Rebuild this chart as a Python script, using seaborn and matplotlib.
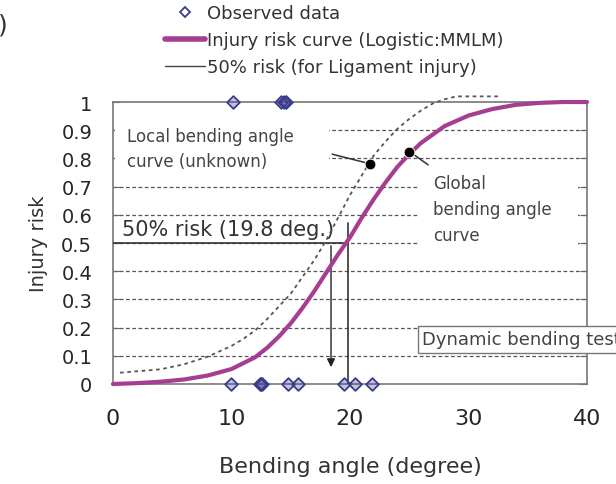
import pandas as pd
import matplotlib.pyplot as plt
import seaborn as sns
from matplotlib.lines import Line2D
from matplotlib.patches import Rectangle

# data
obs_angle = [10.0, 12.4, 12.5, 12.6, 14.8, 15.6, 19.5, 20.4, 21.9, 10.1, 14.2, 14.4, 14.6]
obs_injury = [0, 0, 0, 0, 0, 0, 0, 0, 0, 1, 1, 1, 1]

risk_angle = [0, 2, 4, 6, 8, 10, 12, 13, 14, 15, 16, 17, 18, 19, 20, 21, 22, 23, 24,
              25, 26, 28, 30, 32, 34, 36, 38, 40]
risk_value = [0.0, 0.003, 0.008, 0.016, 0.03, 0.053, 0.095, 0.128, 0.168, 0.215, 0.27,
              0.33, 0.395, 0.46, 0.52, 0.59, 0.655, 0.715, 0.77, 0.815, 0.855, 0.915,
              0.952, 0.975, 0.99, 0.997, 1.0, 1.0]

local_angle = [0.6, 2, 4, 6, 8, 10, 11, 12, 13, 14, 15, 16, 17, 18, 19, 20, 21, 22, 23,
               24, 25, 26, 27, 28, 29, 32.5]
local_value = [0.04, 0.045, 0.052, 0.07, 0.097, 0.135, 0.16, 0.19, 0.23, 0.275, 0.32, 0.38,
               0.44, 0.51, 0.59, 0.67, 0.74, 0.81, 0.86, 0.905, 0.94, 0.97, 0.995, 1.01,
               1.02, 1.02]

risk50_angle = 19.8
local50_angle = 18.4
dot_angle = [21.7, 25.0]
dot_value = [0.78, 0.823]

x_ticks = [0, 10, 20, 30, 40]
y_ticks = [0, 0.1, 0.2, 0.3, 0.4, 0.5, 0.6, 0.7, 0.8, 0.9, 1.0]
y_labels = ["0", "0.1", "0.2", "0.3", "0.4", "0.5", "0.6", "0.7", "0.8", "0.9", "1"]

obs_df = pd.DataFrame({"angle": obs_angle, "injury": obs_injury})
risk_df = pd.DataFrame({"angle": risk_angle, "risk": risk_value})
local_df = pd.DataFrame({"angle": local_angle, "risk": local_value})

sns.set_style("white")
plt.rcParams["font.family"] = ["DejaVu Sans"]

magenta = "#a63d91"
navy = "#3b3b8c"
grey = "#555555"

fig = plt.figure(figsize=(6.16, 4.85), dpi=100)
ax = fig.add_axes([0.1834, 0.2062, 0.7695, 0.5814])

# dashed horizontal grid
for yv in y_ticks[1:-1]:
    ax.axhline(yv, color=grey, lw=0.9, ls=(0, (3, 2)), zorder=0.5)

sns.lineplot(data=local_df, x="angle", y="risk", ax=ax, color=grey, lw=1.3,
             linestyle=(0, (2, 2)), zorder=4, clip_on=False)
sns.lineplot(data=risk_df, x="angle", y="risk", ax=ax, color=magenta, lw=3, zorder=5,
             clip_on=False)
sns.scatterplot(data=obs_df, x="angle", y="injury", ax=ax, marker="D", s=42,
                facecolor=(0.23, 0.23, 0.55, 0.3), edgecolor=navy, linewidth=1.3,
                zorder=6, clip_on=False)
sns.scatterplot(x=dot_angle, y=dot_value, ax=ax, color="black", s=60, zorder=6)

# 50% risk lines
ax.plot([0, risk50_angle], [0.5, 0.5], color="#333333", lw=1.2, zorder=3)
ax.plot([risk50_angle, risk50_angle], [0, 0.57], color="#333333", lw=1.2, zorder=3)
ax.annotate("", xy=(local50_angle, 0.05), xytext=(local50_angle, 0.5),
            arrowprops=dict(arrowstyle="-|>", color="#222222", lw=1, mutation_scale=12),
            zorder=3)
ax.text(0.8, 0.55, "50% risk (19.8 deg.)", fontsize=15, color="#333333", va="center")

# white boxes behind the two curve notes (they hide the grid)
ax.add_patch(Rectangle((0.15, 0.73), 18.1, 0.2, facecolor="white", edgecolor="none",
                       zorder=1))
ax.add_patch(Rectangle((25.8, 0.45), 13.4, 0.29, facecolor="white", edgecolor="none",
                       zorder=1))

ax.text(1.2, 0.835, "Local bending angle\ncurve (unknown)", fontsize=12, color="#444444",
        va="center", linespacing=1.45, zorder=3)
ax.plot([18.5, 21.5], [0.815, 0.783], color="#333333", lw=1.1, zorder=4)
ax.text(27.0, 0.62, "Global\nbending angle\ncurve", fontsize=12, color="#444444",
        va="center", linespacing=1.55, zorder=3)
ax.plot([25.3, 26.6], [0.816, 0.777], color="#333333", lw=1.1, zorder=4)
ax.text(26.1, 0.158, "Dynamic bending test", fontsize=13, color="#444444", va="center",
        bbox=dict(facecolor="white", edgecolor="#777777", pad=3, lw=1), zorder=7,
        clip_on=False)

ax.set_xlim(0, 40)
ax.set_ylim(0, 1)
ax.set_xticks(x_ticks)
ax.set_yticks(y_ticks)
ax.set_yticklabels(y_labels)
ax.tick_params(axis="x", direction="in", length=6, labelsize=16, pad=17, color="#666666")
ax.tick_params(axis="y", direction="in", length=5, labelsize=14, pad=15, color="#666666",
               right=True, left=True)
ax.set_xlabel("Bending angle (degree)", fontsize=16, color="#333333", va="center")
ax.set_ylabel("Injury risk", fontsize=14, color="#333333", va="center")
ax.xaxis.set_label_coords(0.5, -0.29)
ax.yaxis.set_label_coords(-0.158, 0.5)
for sp in ax.spines.values():
    sp.set_color("#777777")
    sp.set_linewidth(1.2)

handles = [
    Line2D([], [], ls="none", marker="D", markersize=5, markerfacecolor="white",
           markeredgecolor=navy, markeredgewidth=1.3, label="Observed data"),
    Line2D([], [], color=magenta, lw=4, label="Injury risk curve (Logistic:MMLM)"),
    Line2D([], [], color="#444444", lw=1, label="50% risk (for Ligament injury)"),
]
fig.legend(handles=handles, loc="upper left", bbox_to_anchor=(165 / 616, 1 - 5 / 485),
           frameon=False, fontsize=13, handlelength=2.2, handletextpad=0.15,
           labelspacing=0.5, borderpad=0, borderaxespad=0, labelcolor="#333333")

fig.text(-0.004, 1 - 25 / 485, ")", fontsize=18, color="#333333", va="center")

plt.savefig("out.png", dpi=100)
